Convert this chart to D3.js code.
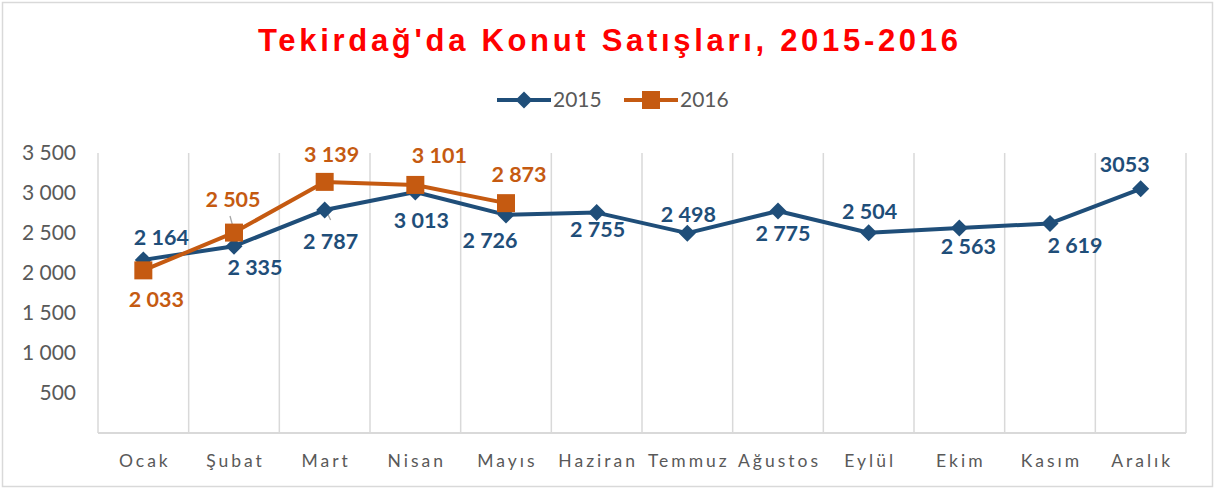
<!DOCTYPE html>
<html><head><meta charset="utf-8">
<script src="https://cdn.jsdelivr.net/npm/d3@7"></script>
<style>
html,body{margin:0;padding:0;background:#fff;}
svg{display:block;}
</style></head>
<body>
<svg id="chart" width="1215" height="490"></svg>
<script>
const months = ["Ocak","Şubat","Mart","Nisan","Mayıs","Haziran","Temmuz","Ağustos","Eylül","Ekim","Kasım","Aralık"];
const values2015 = [2164, 2335, 2787, 3013, 2726, 2755, 2498, 2775, 2504, 2563, 2619, 3053];
const values2016 = [2033, 2505, 3139, 3101, 2873];
const labels2015 = ["2 164","2 335","2 787","3 013","2 726","2 755","2 498","2 775","2 504","2 563","2 619","3053"];
const labels2016 = ["2 033","2 505","3 139","3 101","2 873"];
const yTicks = [500, 1000, 1500, 2000, 2500, 3000, 3500];
const seriesNames = ["2015","2016"];
const titleText = "Tekirdağ'da Konut Satışları, 2015-2016";

// label placement offsets (layout, not data)
const off2015 = [[18,-22],[21,21],[6,31],[6,29],[-16,26],[1,17],[1,-19],[5,22],[1,-21],[9,19],[25,22],[-16,-24]];
const off2016 = [[13,29],[-1,-33],[7,-27],[24,-29],[13,-29]];

const C15 = "#1F4E79", C16 = "#C55A11";
const svg = d3.select("#chart");

svg.append("rect").attr("x",2.5).attr("y",2.5).attr("width",1210).attr("height",484)
  .attr("fill","#fff").attr("stroke","#d9d9d9").attr("stroke-width",1.5);

const x = d3.scaleBand().domain(months).range([98,1186]).padding(0);
const y = d3.scaleLinear().domain([0,3500]).range([433,153]);

// title, spread to the reference width
const title = svg.append("text").attr("x",608).attr("y",51).attr("text-anchor","middle")
  .attr("font-family","Liberation Sans, Arial, sans-serif").attr("font-weight","bold")
  .attr("font-size",31).attr("fill","#FF0000").text(titleText);
const tl = title.node().getComputedTextLength();
const ls = Math.max(0,(700 - tl)/(titleText.length-1));
title.attr("letter-spacing", ls+"px").attr("x",608+ls/2);

// vertical gridlines at band edges
const edges = months.map(m => x(m)).concat([x.range()[1]]);
svg.append("g").selectAll("line").data(edges).join("line")
  .attr("x1",d=>d).attr("x2",d=>d).attr("y1",y(3500)).attr("y2",y(0))
  .attr("stroke","#d9d9d9").attr("stroke-width",1.5);
svg.append("line").attr("x1",x.range()[0]).attr("x2",x.range()[1]).attr("y1",y(0)).attr("y2",y(0))
  .attr("stroke","#d9d9d9").attr("stroke-width",2);

// y labels
const fmt = v => d3.format(",")(v).replace(/,/g," ");
svg.append("g").selectAll("text").data(yTicks).join("text")
  .attr("x",76).attr("y",d=>y(d)).attr("dy","0.35em").attr("text-anchor","end")
  .attr("font-family","Lato, sans-serif").attr("font-size",21).attr("fill","#595959").text(fmt);

// x labels
svg.append("g").selectAll("text").data(months).join("text")
  .attr("x",d=>x(d)+x.bandwidth()/2+1.5).attr("y",461).attr("dy","0.35em").attr("text-anchor","middle")
  .attr("font-family","Lato, sans-serif").attr("font-size",17.5).attr("letter-spacing","3px")
  .attr("fill","#595959").text(d=>d);

const cx = i => x(months[i]) + x.bandwidth()/2;
const line = d3.line().x((d,i)=>cx(i)).y(d=>y(d));

// leader lines
svg.append("line").attr("x1",cx(1)-4).attr("y1",216).attr("x2",cx(1)).attr("y2",y(values2016[1])-2)
  .attr("stroke","#a6a6a6").attr("stroke-width",1.3);
svg.append("line").attr("x1",cx(2)+1).attr("y1",y(values2015[2])).attr("x2",cx(2)+6).attr("y2",220)
  .attr("stroke","#a6a6a6").attr("stroke-width",1.3);

// 2015 line
svg.append("path").datum(values2015).attr("d",line).attr("fill","none")
  .attr("stroke",C15).attr("stroke-width",4).attr("stroke-linejoin","round");
const diamond = (s) => `M0,${-s}L${s},0L0,${s}L${-s},0Z`;
svg.append("g").selectAll("path").data(values2015).join("path")
  .attr("transform",(d,i)=>`translate(${cx(i)},${y(d)})`).attr("d",diamond(8.5)).attr("fill",C15);

// 2016 line
svg.append("path").datum(values2016).attr("d",line).attr("fill","none")
  .attr("stroke",C16).attr("stroke-width",4).attr("stroke-linejoin","round");
svg.append("g").selectAll("rect").data(values2016).join("rect")
  .attr("x",(d,i)=>cx(i)-9).attr("y",d=>y(d)-9).attr("width",18).attr("height",18).attr("fill",C16);

// data labels
svg.append("g").selectAll("text").data(values2015).join("text")
  .attr("x",(d,i)=>cx(i)+off2015[i][0]).attr("y",(d,i)=>y(d)+off2015[i][1]).attr("dy","0.35em")
  .attr("text-anchor","middle").attr("font-family","Lato, sans-serif").attr("font-weight","bold")
  .attr("font-size",21.5).attr("fill",C15).text((d,i)=>labels2015[i]);
svg.append("g").selectAll("text").data(values2016).join("text")
  .attr("x",(d,i)=>cx(i)+off2016[i][0]).attr("y",(d,i)=>y(d)+off2016[i][1]).attr("dy","0.35em")
  .attr("text-anchor","middle").attr("font-family","Lato, sans-serif").attr("font-weight","bold")
  .attr("font-size",21.5).attr("fill",C16).text((d,i)=>labels2016[i]);

// legend
const lg = svg.append("g");
const legendItems = [{name:seriesNames[0],c:C15,x0:497},{name:seriesNames[1],c:C16,x0:624}];
legendItems.forEach((it,k)=>{
  lg.append("line").attr("x1",it.x0).attr("x2",it.x0+54).attr("y1",100).attr("y2",100)
    .attr("stroke",it.c).attr("stroke-width",4);
  if(k===0) lg.append("path").attr("transform",`translate(${it.x0+27},100)`).attr("d",diamond(8.5)).attr("fill",it.c);
  else lg.append("rect").attr("x",it.x0+27-9).attr("y",91).attr("width",18).attr("height",18).attr("fill",it.c);
  lg.append("text").attr("x",it.x0+56).attr("y",100).attr("dy","0.35em")
    .attr("font-family","Lato, sans-serif").attr("font-size",21).attr("fill","#595959").text(it.name);
});
</script>
</body></html>
